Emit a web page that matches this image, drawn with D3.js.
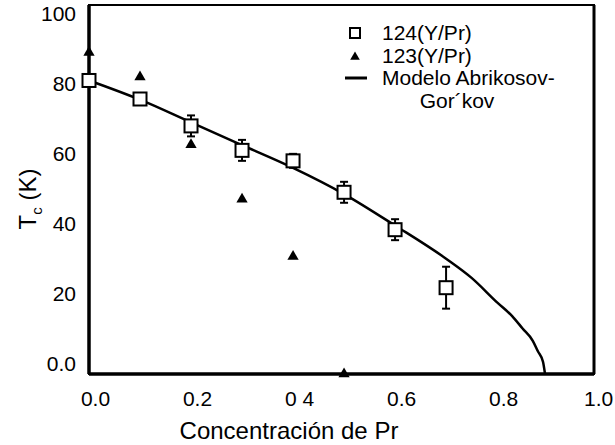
<!DOCTYPE html>
<html>
<head>
<meta charset="utf-8">
<script src="https://cdn.jsdelivr.net/npm/d3@7"></script>
<style>
  body { margin: 0; background: #fff; }
  #graphicContainer { width: 615px; height: 445px; }
  text { font-family: "Liberation Sans", Arial, sans-serif; fill: #000; }
</style>
</head>
<body>
<div id="graphicContainer"></div>
<script>

// 124(Y/Pr) samples, with error bars
var conc124 = [0, 0.1, 0.2, 0.3, 0.4, 0.5, 0.6, 0.7]
var tc124 = [81, 75.7, 68, 61, 58, 49, 38.3, 21.7]
var err124 = [0, 0, 3, 3, 2, 3, 3, 6]

// 123(Y/Pr) samples
var conc123 = [0, 0.1, 0.2, 0.3, 0.4, 0.5]
var tc123 = [89, 82, 62.6, 47, 30.6, -3]

// Abrikosov-Gor'kov model curve
var concAG = [0, 0.1, 0.2, 0.3, 0.4, 0.5, 0.6, 0.7, 0.75, 0.8, 0.83, 0.85, 0.87, 0.88, 0.89, 0.894]
var tcAG = [81, 75.5, 69, 62.5, 56, 48.5, 39.5, 30, 24.5, 17.5, 13.5, 10, 6.5, 3.5, 0.5, -3]

var xTicks = [0, 0.2, 0.4, 0.6, 0.8, 1.0]
var xTickLabels = ["0.0", "0.2", "0 4", "0.6", "0.8", "1.0"]
var yTicks = [0, 20, 40, 60, 80, 100]

var legendLabels = ["124(Y/Pr)", "123(Y/Pr)", "Modelo Abrikosov-", "Gor\u00b4kov"]

var svg = d3.select("#graphicContainer").append("svg")
  .attr("width", 615)
  .attr("height", 445)

var x = d3.scaleLinear().domain([0, 0.99]).range([89, 594])
var y = d3.scaleLinear().domain([-3, 102.6]).range([374, 5])

// frame
svg.append("rect")
  .attr("x", x(0)).attr("y", y(102.6))
  .attr("width", x(0.99) - x(0)).attr("height", y(-3) - y(102.6))
  .attr("fill", "none").attr("stroke", "#000").attr("stroke-width", 2)
svg.append("line")
  .attr("x1", x(0)).attr("x2", x(0)).attr("y1", y(102.6)).attr("y2", y(-3))
  .attr("stroke", "#000").attr("stroke-width", 3.5)
svg.append("line")
  .attr("x1", x(0)).attr("x2", x(0.99)).attr("y1", y(-3)).attr("y2", y(-3))
  .attr("stroke", "#000").attr("stroke-width", 3.5)
svg.append("line")
  .attr("x1", x(0.99)).attr("x2", x(0.99)).attr("y1", y(102.6)).attr("y2", y(-3))
  .attr("stroke", "#000").attr("stroke-width", 3)

// axes (labels only, no tick marks)
var xAxis = d3.axisBottom(x).tickValues(xTicks).tickSize(0).tickPadding(0)
  .tickFormat((d, i) => xTickLabels[i])
var yAxis = d3.axisLeft(y).tickValues(yTicks).tickSize(0).tickPadding(0)
  .tickFormat((d) => d === 0 ? "0.0" : d)

var gx = svg.append("g").attr("transform", "translate(0,391)").call(xAxis)
gx.select(".domain").remove()
gx.selectAll("text").attr("font-size", 21)
  .attr("dx", (d) => d === 1 ? -1 : 6)

var gy = svg.append("g").attr("transform", "translate(76,0)").call(yAxis)
gy.select(".domain").remove()
gy.selectAll("text").attr("font-size", 21)

// axis titles
svg.append("text")
  .attr("x", 289).attr("y", 439)
  .attr("text-anchor", "middle")
  .attr("font-size", 24)
  .text("Concentración de Pr")

var yTitle = svg.append("text")
  .attr("transform", "translate(36,199) rotate(-90)")
  .attr("text-anchor", "middle")
  .attr("font-size", 24)
yTitle.append("tspan").text("T")
yTitle.append("tspan").attr("font-size", 15).attr("dy", 6).text("c")
yTitle.append("tspan").attr("dy", -6).text(" (K)")

// model curve
var line = d3.line().x((d) => x(d[0])).y((d) => y(d[1])).curve(d3.curveMonotoneX)
svg.append("path")
  .datum(concAG.map((c, i) => [c, tcAG[i]]))
  .attr("d", line)
  .attr("fill", "none").attr("stroke", "#000").attr("stroke-width", 2.5)

// error bars
var data124 = conc124.map((c, i) => ({ c: c, tc: tc124[i], err: err124[i] }))
var bars = svg.selectAll(".err").data(data124.filter((d) => d.err > 0)).enter().append("g").attr("class", "err")
bars.append("line")
  .attr("x1", (d) => x(d.c)).attr("x2", (d) => x(d.c))
  .attr("y1", (d) => y(d.tc - d.err)).attr("y2", (d) => y(d.tc + d.err))
  .attr("stroke", "#000").attr("stroke-width", 2)
bars.append("line")
  .attr("x1", (d) => x(d.c) - 4).attr("x2", (d) => x(d.c) + 4)
  .attr("y1", (d) => y(d.tc + d.err)).attr("y2", (d) => y(d.tc + d.err))
  .attr("stroke", "#000").attr("stroke-width", 2)
bars.append("line")
  .attr("x1", (d) => x(d.c) - 4).attr("x2", (d) => x(d.c) + 4)
  .attr("y1", (d) => y(d.tc - d.err)).attr("y2", (d) => y(d.tc - d.err))
  .attr("stroke", "#000").attr("stroke-width", 2)

// 123 triangles
var tri = d3.symbol().type(d3.symbolTriangle).size(55)
svg.selectAll(".tri")
  .data(conc123.map((c, i) => ({ c: c, tc: tc123[i] })))
  .enter().append("path")
  .attr("class", "tri")
  .attr("d", tri)
  .attr("transform", (d) => "translate(" + x(d.c) + "," + y(d.tc) + ")")
  .attr("fill", "#000")

// 124 squares
svg.selectAll(".sq")
  .data(data124)
  .enter().append("rect")
  .attr("class", "sq")
  .attr("x", (d) => x(d.c) - 6.5).attr("y", (d) => y(d.tc) - 6.5)
  .attr("width", 13).attr("height", 13)
  .attr("fill", "#fff").attr("stroke", "#000").attr("stroke-width", 2)

// legend
var lg = svg.append("g")
lg.append("rect").attr("x", 350).attr("y", 28).attr("width", 10).attr("height", 10)
  .attr("fill", "#fff").attr("stroke", "#000").attr("stroke-width", 2)
lg.append("path").attr("d", d3.symbol().type(d3.symbolTriangle).size(40))
  .attr("transform", "translate(355,57)").attr("fill", "#000")
lg.append("line").attr("x1", 345).attr("x2", 367).attr("y1", 78).attr("y2", 78)
  .attr("stroke", "#000").attr("stroke-width", 3)

var legendPos = [[382, 33, "start"], [382, 56, "start"], [382, 78, "start"], [457, 101, "middle"]]
lg.selectAll(".lgText").data(legendLabels).enter().append("text")
  .attr("class", "lgText")
  .attr("x", (d, i) => legendPos[i][0]).attr("y", (d, i) => legendPos[i][1])
  .attr("dy", "0.35em")
  .attr("text-anchor", (d, i) => legendPos[i][2])
  .attr("font-size", 21)
  .text((d) => d)

</script>
</body>
</html>
